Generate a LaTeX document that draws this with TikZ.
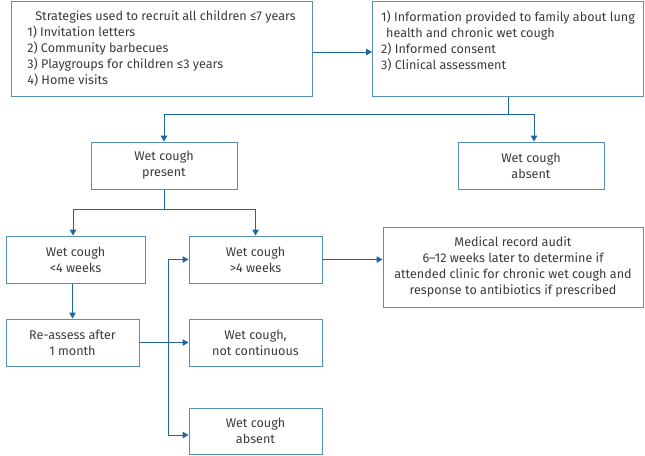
\documentclass[tikz,border=0pt]{standalone}
\usepackage{fontspec}
\setmainfont{Fira Sans}
\usetikzlibrary{arrows.meta}
\definecolor{boxblue}{RGB}{88,142,186}
\definecolor{lineblue}{RGB}{30,102,162}
\definecolor{textgrey}{RGB}{58,58,58}
\tikzstyle{box}=[
        draw=boxblue,
        line width=1pt,
        text=textgrey,
        align=center,
        inner sep=0pt,
        font=\fontsize{12.6}{16}\selectfont
]
\tikzstyle{listbox}=[
        box,
        align=left
]
\tikzstyle{link}=[
        draw=lineblue,
        line width=1pt
]
\tikzstyle{flow}=[
        link,
        -{Triangle[length=6pt,width=6.5pt]}
]

\begin{document}
\begin{tikzpicture}[x=1pt,y=-1pt]
                        \useasboundingbox (0,0) rectangle (645,455);

                        \node[listbox, minimum width=301pt, minimum height=95pt] (recruit) at (161.5,48.5)
                            {\hspace{8pt}Strategies used to recruit all children ≤7 years\\
                             1) Invitation letters\\
                             2) Community barbecues\\
                             3) Playgroups for children ≤3 years\\
                             4) Home visits};
                        \node[listbox, minimum width=271pt, minimum height=95pt] (info) at (508,48.5)
                            {1) Information provided to family about lung\\
                             \hspace{5pt}health and chronic wet cough\\
                             2) Informed consent\\
                             3) Clinical assessment\\
                             \mbox{}};

                        \node[box, minimum width=146pt, minimum height=47pt] (present) at (164,165.5) {Wet cough\\present};
                        \node[box, minimum width=146pt, minimum height=47pt] (absent) at (531,165.5) {Wet cough\\absent};

                        \node[box, minimum width=139pt, minimum height=47pt] (short) at (75.5,259.5) {Wet cough\\<4 weeks};
                        \node[box, minimum width=133pt, minimum height=47pt] (long) at (255.5,259.5) {Wet cough\\>4 weeks};
                        \node[box, minimum width=260pt, minimum height=80pt] (audit) at (513,267)
                            {Medical record audit\\
                             6--12 weeks later to determine if\\
                             attended clinic for chronic wet cough and\\
                             response to antibiotics if prescribed};

                        \node[box, minimum width=133pt, minimum height=47pt] (reassess) at (72.5,342.5) {Re-assess after\\1 month};
                        \node[box, minimum width=133pt, minimum height=47pt] (intermittent) at (255.5,342.5) {Wet cough,\\not continuous};
                        \node[box, minimum width=133pt, minimum height=46pt] (resolved) at (255.5,431) {Wet cough\\absent};

                        \draw[flow] ([yshift=-3.5pt]recruit.east) -- ([yshift=-3.5pt]info.west);

                        \draw[link] (info.south) -- ++(0,18) coordinate (split);
                        \draw[flow] (split) -| (present.north);
                        \draw[flow] (split) -| ([xshift=3pt]absent.north);

                        \draw[link] (present.south) -- ++(0,20) coordinate (fork);
                        \draw[flow] (fork) -| ([xshift=-2.5pt]short.north);
                        \draw[flow] (fork) -| (long.north);

                        \draw[flow] (reassess.north |- short.south) -- (reassess.north);
                        \draw[flow] (long.east) -- (audit.west |- long.east);

                        \draw[flow] (reassess.east) -- (intermittent.west);
                        \coordinate (bus) at (168,345);
                        \draw[flow] (bus) |- (long.west);
                        \draw[flow] (bus) |- ([yshift=-4pt]resolved.west);

                    \end{tikzpicture}
\end{document}
